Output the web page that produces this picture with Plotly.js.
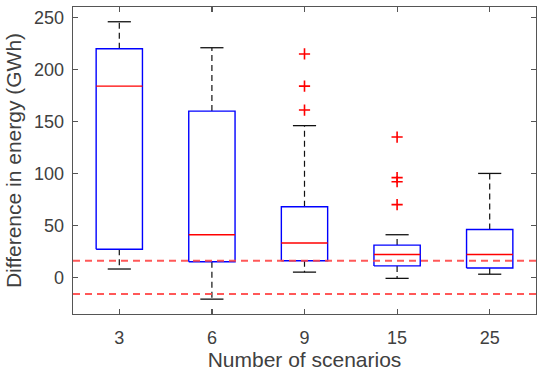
<!DOCTYPE html>
<html>
<head>
<meta charset="utf-8">
<script src="https://cdn.plot.ly/plotly-3.0.1.min.js"></script>
<style>
  html, body { margin: 0; padding: 0; background: #fff; }
  #chart { width: 544px; height: 371px; }
</style>
</head>
<body>
<div id="chart"></div>
<script>
// Box-plot statistics per scenario count (GWh)
const categories   = ['3', '6', '9', '15', '25'];
const upperWhisker = [246, 221, 146, 41, 100];
const q3           = [220, 160, 68, 31, 46];
const medians      = [184, 41, 33, 22, 22];
const q1           = [27, 15, 16, 11, 9];
const lowerWhisker = [8, -21, 5, -1, 3];

// Outliers: category and value
const outlierCat   = ['9', '9', '9', '15', '15', '15', '15'];
const outlierValue = [215, 184, 161, 135, 96, 92, 70];

// Tolerance band (±GWh)
const tolerance = 16;

const boxHalf = 0.25;
const capHalf = 0.125;
const pos = c => categories.indexOf(c) + 1;

const boxX = [], boxY = [];
const medX = [], medY = [];
const whiskX = [], whiskY = [];
const capX = [], capY = [];

categories.forEach((c, i) => {
  const p = pos(c);
  boxX.push(p - boxHalf, p + boxHalf, p + boxHalf, p - boxHalf, p - boxHalf, null);
  boxY.push(q1[i], q1[i], q3[i], q3[i], q1[i], null);
  medX.push(p - boxHalf, p + boxHalf, null);
  medY.push(medians[i], medians[i], null);
  whiskX.push(p, p, null, p, p, null);
  whiskY.push(q3[i], upperWhisker[i], null, q1[i], lowerWhisker[i], null);
  capX.push(p - capHalf, p + capHalf, null, p - capHalf, p + capHalf, null);
  capY.push(upperWhisker[i], upperWhisker[i], null, lowerWhisker[i], lowerWhisker[i], null);
});

const tolLine = { color: 'rgba(255,70,70,0.9)', width: 2, dash: '7px,5px' };

const traces = [
  { x: whiskX, y: whiskY, mode: 'lines', line: { color: '#111', width: 1.2, dash: '6px,4px' }, hoverinfo: 'skip' },
  { x: capX, y: capY, mode: 'lines', line: { color: '#111', width: 1.3 }, hoverinfo: 'skip' },
  { x: boxX, y: boxY, mode: 'lines', line: { color: '#0000ff', width: 1.4 }, hoverinfo: 'skip' },
  { x: medX, y: medY, mode: 'lines', line: { color: '#ff0000', width: 1.4 }, hoverinfo: 'skip' },
  { x: outlierCat.map(pos), y: outlierValue, mode: 'markers',
    marker: { symbol: 'cross-thin-open', size: 8, color: '#ff0000', line: { color: '#ff1a1a', width: 1.6 } } },
  { x: [0.5, 5.5], y: [tolerance, tolerance], mode: 'lines', line: tolLine, hoverinfo: 'skip' },
  { x: [0.5, 5.5], y: [-tolerance, -tolerance], mode: 'lines', line: tolLine, hoverinfo: 'skip' }
];

const textFont = 'Liberation Sans, Arial, sans-serif';

const axisCommon = {
  showline: true, linecolor: '#555', linewidth: 1.3, mirror: 'ticks',
  ticks: 'inside', ticklen: 5, tickcolor: '#555', tickwidth: 1.2,
  showgrid: false, zeroline: false, automargin: false,
  tickfont: { family: textFont, size: 18, color: '#404040' }
};

const layout = {
  width: 544, height: 371,
  margin: { l: 73, r: 8, t: 7, b: 57 },
  paper_bgcolor: '#fff', plot_bgcolor: '#fff',
  showlegend: false,
  xaxis: Object.assign({}, axisCommon, {
    range: [0.5, 5.5],
    tickvals: categories.map(pos), ticktext: categories,
    ticklabelstandoff: 7,
    title: { text: 'Number of scenarios', standoff: 14,
             font: { family: textFont, size: 21, color: '#404040' } }
  }),
  yaxis: Object.assign({}, axisCommon, {
    range: [-35.3, 260.2],
    tickvals: [0, 50, 100, 150, 200, 250],
    ticklabelstandoff: 4,
    title: { text: 'Difference in energy (GWh)', standoff: 6,
             font: { family: textFont, size: 21, color: '#404040' } }
  })
};

Plotly.newPlot('chart', traces, layout, { staticPlot: true, displayModeBar: false });
</script>
</body>
</html>
